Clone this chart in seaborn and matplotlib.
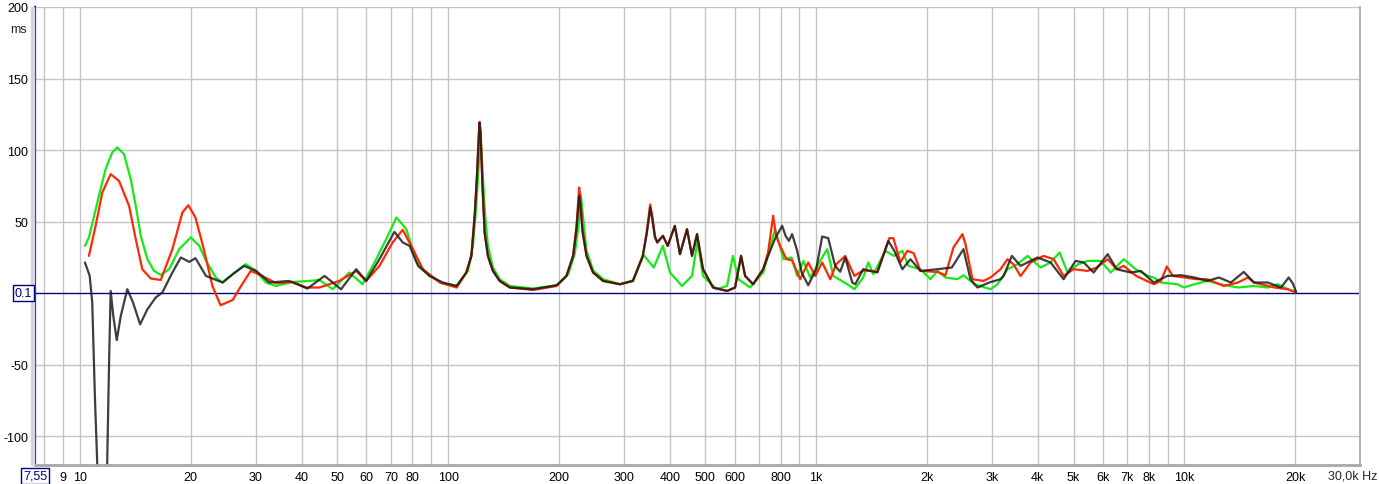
import matplotlib
matplotlib.use('Agg')
import matplotlib.pyplot as plt
from matplotlib.ticker import NullLocator
from matplotlib.patches import Rectangle
import pandas as pd
import seaborn as sns

sns.set_style('white')
plt.rcParams['font.family'] = ['Liberation Sans', 'DejaVu Sans']

# group delay curves (Hz, ms)
green_hz = [10.32, 10.58, 11.26, 11.74, 12.24, 12.63, 13.17, 13.74, 14.18, 14.63,
            15.25, 15.9, 16.58, 17.47, 18.6, 20.0, 21.1, 22.0, 23.4, 24.4,
            26.0, 28.2, 30.1, 32.0, 34.1, 37.8, 41.9, 44.7, 48.6, 53.9,
            58.6, 63.8, 67.9, 72.4, 77.0, 82.2, 89.1, 96.7, 105.5,
            113.2, 116.8, 119.3, 121.1, 122.6, 123.9, 125.7, 128.3, 132.4, 138.1,
            147.2, 170.2, 197.3, 212, 221, 226.1, 229.4, 232.3, 237.7, 247.7,
            263.8, 292.9, 317.8, 340, 362, 383.4,
            400.6, 432, 459.8, 476, 492.6, 536, 572.5, 594, 615, 661,
            717.6, 773.5, 815, 857, 888, 923, 963, 1071, 1113, 1214,
            1270, 1342, 1385, 1429, 1541, 1625, 1714, 1780, 1919, 2043,
            2135, 2244, 2420, 2512, 2690, 2975, 3108, 3309, 3523, 3751,
            4069, 4331, 4583, 4819, 5150, 5461, 5925, 6310, 6845, 7380,
            7958, 8260, 8632, 9580, 9969, 10650, 11550, 12550, 13985, 15460,
            16850, 17960, 19100, 20112]
green_ms = [33.1, 39.0, 68.0, 86.7, 98.4, 101.9, 97.2, 79.7, 61.0, 40.1,
            23.8, 15.6, 12.8, 16.8, 30.8, 39.0, 33.1, 22.6, 11.0, 7.5,
            13.3, 20.3, 15.6, 7.5, 5.1, 7.9, 8.6, 9.3, 2.8, 14.5,
            6.3, 23.8, 37.8, 52.9, 44.8, 21.5, 12.1, 6.8, 5.1,
            15.6, 33.1, 61.0, 89.0, 107.7, 89.0, 58.7, 33.1, 18.0, 9.8,
            5.1, 3.3, 5.6, 13.3, 28.0, 47.0, 69.2, 55.0, 30.0, 16.0,
            9.8, 6.3, 9.0, 26.6, 18.0, 33.1,
            14.5, 5.1, 12.1, 36.6, 12.1, 2.8, 5.1, 26.1, 9.8, 4.0,
            14.5, 44.8, 23.8, 25.0, 12.1, 22.6, 11.0, 30.8, 12.1, 6.3,
            2.8, 11.0, 21.5, 13.3, 29.6, 26.1, 29.6, 19.1, 16.8, 9.8,
            15.6, 11.0, 9.8, 12.6, 6.3, 2.8, 6.3, 16.8, 20.3, 26.1,
            18.0, 21.5, 28.5, 14.5, 20.3, 22.6, 22.6, 14.5, 23.8, 16.8,
            12.1, 11.0, 7.5, 6.3, 4.0, 6.3, 8.6, 6.3, 4.0, 5.1,
            4.0, 6.3, 2.8, 1.0]

red_hz = [10.58, 11.03, 11.5, 12.12, 12.77, 13.6, 14.18, 14.77, 15.57, 16.58,
          17.83, 18.98, 19.7, 20.6, 21.7, 22.9, 24.1, 26.0, 27.4, 29.1,
          31.3, 34.1, 37.8, 41.2, 44.7, 50.6, 56.3, 59.9, 65.1, 70.7,
          75.3, 80.3, 85.4, 95.0, 105.5,
          112.1, 115.7, 118.1, 119.8, 121.3, 121.8, 122.6, 123.9, 125.7, 128.3,
          132.4, 138.1, 147.2, 170.2, 197.3,
          209.7, 218.6, 223.3, 226.1, 227, 228.9, 231.8, 237.7, 247.7, 263.8,
          292.9, 317.8, 338, 346.2, 351.9, 354, 358.6, 364.7, 370, 383.4, 395,
          413, 426.5, 445.7, 459.8, 474.5, 492.6, 524.5, 572.5, 601.9, 625,
          641, 674, 717.6, 740, 764, 778, 798, 830, 860, 904.6,
          951, 994, 1038, 1092, 1133, 1199, 1270, 1342, 1466, 1580,
          1620, 1693, 1768, 1840, 1919, 2135, 2244, 2359, 2496, 2540,
          2658, 2847, 2975, 3167, 3309, 3440, 3590, 3822, 4146, 4414,
          4699, 5000, 5461, 5780, 6191, 6550, 6845, 7400, 8260, 8632,
          8963, 9300, 9969, 10800, 11550, 12810, 13985, 14888, 15460, 17600,
          19100, 20112]
red_ms = [26.1, 47.1, 70.4, 83.2, 78.5, 61.0, 37.8, 16.8, 10.3, 9.3,
          30.8, 56.4, 61.5, 52.9, 30.8, 5.1, -8.4, -4.7, 5.1, 15.6,
          12.1, 7.0, 7.9, 4.0, 4.0, 8.6, 15.6, 8.6, 19.1, 35.5,
          44.3, 30.8, 16.8, 7.5, 4.0,
          14.5, 26.0, 54.1, 82.0, 112.6, 119.8, 112.6, 77.0, 42.4, 26.0,
          15.6, 8.6, 4.0, 2.3, 5.1,
          12.1, 26.1, 47.1, 68.0, 73.9, 65.7, 44.8, 26.1, 14.5, 8.6,
          6.3, 8.6, 26.1, 42.4, 56.4, 62.0, 54.0, 40.1, 35.5, 40.1, 33.1,
          47.1, 27.3, 44.8, 26.1, 41.3, 16.8, 4.0, 1.6, 4.0, 26.1,
          12.1, 6.3, 16.8, 28.5, 54.1, 40, 33.1, 23.8, 23, 9.8,
          21.5, 12.1, 21.5, 9.8, 20.3, 26, 12.1, 16, 15, 38.5,
          38.5, 21.7, 29.6, 28, 15.6, 14.9, 12.6, 32, 41.3, 35,
          9.8, 8.6, 11, 16.8, 23.8, 20, 12, 21.5, 26.1, 23.8,
          12.1, 16.8, 15.6, 18.0, 23.8, 16.8, 19.1, 12.1, 6.3, 8.6,
          18.7, 12.1, 11.0, 9.8, 9.8, 5.1, 7.5, 11.0, 7.5, 4.0,
          2.8, 0.5]

black_hz = [10.32, 10.63, 10.8, 10.98, 11.14, 11.3, 11.7, 11.86, 12.0, 12.12,
            12.32, 12.59, 12.91, 13.45, 13.94, 14.57, 15.25, 16.06, 16.74, 17.83,
            18.8, 19.8, 20.6, 22.0, 24.4, 26.0, 27.9, 30.1, 32.7, 37.0,
            41.5, 46.2, 51.2, 56.3, 59.9, 65.1, 71.5, 75.3, 78.6, 82.9,
            89.1, 96.7, 105.5,
            112.1, 115.7, 118.1, 119.8, 121.3, 121.8, 122.6, 123.9, 125.7, 128.3,
            132.4, 138.1, 147.2, 170.2, 197.3,
            209.7, 218.6, 223.3, 226.1, 227, 228.9, 231.8, 237.7, 247.7, 263.8,
            292.9, 317.8, 338, 346.2, 351.9, 354, 358.6, 364.7, 370, 383.4, 395,
            413, 426.5, 445.7, 459.8, 474.5, 492.6, 524.5, 572.5, 601.9, 625,
            641, 674, 717.6, 740, 773.5, 808, 826, 843, 860, 887,
            913, 951, 1000, 1038, 1078, 1126, 1162, 1199, 1253, 1277,
            1342, 1466, 1570, 1630, 1714, 1803, 1919, 2135, 2335, 2512,
            2624, 2742, 2950, 3167, 3230, 3400, 3590, 3993, 4331, 4699,
            5066, 5330, 5670, 6191, 6550, 7151, 7615, 8260, 8990, 9800,
            10650, 11550, 12415, 13383, 14500, 15460, 16850, 18305, 19200, 19700,
            20112]
black_ms = [21.5, 12.1, -6.5, -71.8, -118, -300, -300, -118, -48, 1.6,
            -15.9, -32.7, -15.9, 2.8, -6.5, -21.7, -11.2, -3.0, 0.5, 14.5,
            25.0, 21.9, 24.5, 12.1, 7.5, 13.3, 19.1, 15.6, 7.5, 8.6,
            3.3, 12.1, 2.8, 16.8, 8.6, 23.8, 42.9, 35.5, 33.1, 19.1,
            12.1, 7.5, 5.1,
            14.5, 26.0, 54.1, 82.0, 112.0, 119.0, 112.0, 77.0, 42.4, 26.0,
            15.6, 8.6, 4.0, 2.8, 5.6,
            12.1, 26.1, 45.0, 62.0, 68.0, 61.0, 43.0, 26.1, 14.5, 8.6,
            6.3, 8.6, 26.1, 41.0, 54.0, 60.0, 52.0, 39.0, 35.5, 40.1, 33.1,
            47.1, 27.3, 44.8, 26.1, 41.3, 16.8, 4.0, 1.6, 4.0, 26.1,
            12.1, 6.3, 16.8, 26, 38.3, 47.1, 40, 36.6, 41.3, 30,
            14.5, 5.6, 16.8, 39.6, 38.5, 19.1, 15, 25, 7.5, 6.3,
            16.8, 14.5, 36.5, 29.6, 16.8, 23.8, 15.6, 16.8, 18, 30.8,
            9.8, 4.0, 7.5, 9.8, 12.1, 26.1, 19.1, 25, 21.5, 9.8,
            22.6, 21.5, 14.5, 27.3, 16.8, 14.5, 15.6, 7.5, 12.1, 12.6,
            11.0, 8.6, 11.0, 7.5, 14.9, 7.5, 7.5, 4.0, 11.0, 7.0,
            1.0]

x_grid = [8, 9, 10, 20, 30, 40, 50, 60, 70, 80, 90, 100, 200, 300, 400, 500, 600, 700, 800, 900,
          1000, 2000, 3000, 4000, 5000, 6000, 7000, 8000, 9000, 10000, 20000]
x_labels = ['', '9', '10', '20', '30', '40', '50', '60', '70', '80', '', '100', '200', '300', '400',
            '500', '600', '', '800', '', '1k', '2k', '3k', '4k', '5k', '6k', '7k', '8k', '', '10k', '20k']
y_grid = [-100, -50, 50, 100, 150, 200]

W, H = 1379, 485
fig = plt.figure(figsize=(W / 100, H / 100), dpi=100)
ax = fig.add_axes([35 / W, 19 / H, 1325 / W, 458 / H])

series = [(green_hz, green_ms, '#18e818', 1.0),
          (red_hz, red_ms, '#ff2a00', 1.0),
          (black_hz, black_ms, '#1c1c1c', 0.85)]
for hz, ms, col, a in series:
    df = pd.DataFrame({'hz': hz, 'ms': ms})
    sns.lineplot(data=df, x='hz', y='ms', color=col, lw=1.6, alpha=a, ax=ax,
                 estimator=None, sort=False)

ax.set_xscale('log')
ax.set_xlim(7.55, 30000)
ax.set_ylim(-120, 200)
ax.xaxis.set_minor_locator(NullLocator())
ax.set_xticks(x_grid)
ax.set_xticklabels(x_labels)
ax.set_yticks(y_grid)
ax.set_yticklabels([str(v) for v in y_grid])
ax.grid(True, color='#c4c4c4', lw=1)
ax.set_axisbelow(True)
ax.axhline(0.1, color='#000080', lw=1, zorder=1.5)
ax.tick_params(length=0, labelsize=9, colors='#000000')
ax.tick_params(axis='x', pad=4)
ax.tick_params(axis='y', pad=5)
ax.set_xlabel('')
ax.set_ylabel('')

ax.spines['top'].set_visible(False)
ax.spines['left'].set_color('#1a1ad0')
ax.spines['left'].set_linewidth(1.6)
ax.spines['bottom'].set_color('#a8a8a8')
ax.spines['bottom'].set_linewidth(2)
ax.spines['right'].set_color('#b4b4b4')
ax.spines['right'].set_linewidth(1.5)

fig.patches.append(Rectangle((31 / W, 19 / H), 3 / W, 458 / H, transform=fig.transFigure,
                             color='#d4d4e4', zorder=0))

fig.text(18 / W, 1 - 30 / H, 'ms', fontsize=9, ha='center', va='center')
fig.text(23.5 / W, 1 - 294 / H, '0.1', fontsize=9, ha='center', va='center', color='#000080',
         bbox=dict(boxstyle='square,pad=0.15', fc='white', ec='#000080', lw=1))
fig.text(35 / W, 1 - 477 / H, '7,55', fontsize=9, ha='center', va='center', color='#000080',
         bbox=dict(boxstyle='square,pad=0.15', fc='white', ec='#000080', lw=1))
fig.text(1377 / W, 1 - 477 / H, '30,0k Hz', fontsize=9, ha='right', va='center')

fig.savefig('out.png', dpi=100)
